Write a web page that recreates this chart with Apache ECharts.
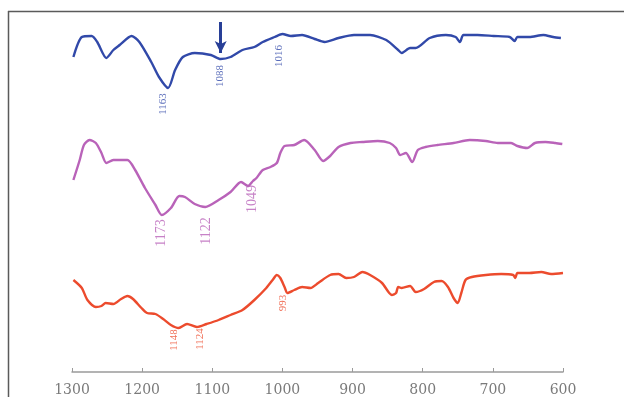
<!DOCTYPE html>
<html><head><meta charset="utf-8">
<script src="https://cdn.jsdelivr.net/npm/echarts@6/dist/echarts.min.js"></script>
<style>html,body{margin:0;padding:0;background:#fff}#c{width:624px;height:397px}</style>
</head><body><div id="c"></div>
<script>
// x tick labels (wavenumber, cm-1)
var xTicks = [1300, 1200, 1100, 1000, 900, 800, 700, 600];
// top (blue) spectrum: [wavenumber, offset transmittance]
var blueCurve = [[1298,315],[1286,335],[1272,336],[1264,330],[1251,314],[1241,322],[1232,327],[1215,336],[1204,330],[1187,310],[1176,295],[1163,284],[1153,302],[1142,315],[1125,319],[1102,317],[1088,313],[1074,315],[1057,322],[1040,325],[1028,330],[1011,335],[1000,338],[988,336],[972,337],[954,333],[940,330],[920,334],[898,337],[875,337],[852,332],[835,322],[830,319],[818,324],[810,324],[790,334],[767,337],[753,335],[747,330],[742,337],[722,337],[699,336],[676,335],[669,331],[665,335],[648,335],[628,337],[614,335],[603,334]];
// middle (pink) spectrum
var pinkCurve = [[1298,192],[1289,212],[1283,227],[1275,232],[1266,229],[1258,219],[1251,209],[1241,212],[1221,212],[1210,202],[1196,184],[1181,167],[1172,157],[1159,164],[1147,176],[1139,175],[1125,168],[1110,165],[1091,172],[1074,180],[1059,190],[1049,186],[1042,191],[1037,194],[1028,202],[1017,205],[1008,209],[1003,219],[997,226],[983,227],[969,232],[954,222],[942,211],[932,216],[920,225],[903,229],[886,230],[864,231],[847,229],[838,224],[832,217],[824,219],[815,210],[807,222],[796,225],[779,227],[756,229],[733,232],[710,231],[693,229],[674,229],[665,226],[651,224],[640,229],[625,230],[611,229],[601,228]];
// bottom (red) spectrum
var redCurve = [[1298,92],[1286,84],[1278,72],[1266,65],[1258,66],[1252,69],[1241,68],[1230,73],[1221,76],[1213,73],[1201,64],[1193,59],[1181,58],[1170,53],[1159,47],[1148,44],[1136,48],[1122,45],[1108,48],[1091,52],[1074,57],[1057,62],[1040,72],[1023,84],[1014,92],[1008,97],[1003,94],[997,85],[993,79],[983,82],[972,85],[960,84],[949,89],[932,97],[920,98],[909,94],[898,95],[886,100],[875,97],[858,89],[844,77],[838,79],[835,85],[830,84],[818,86],[810,80],[798,83],[784,90],[773,91],[764,85],[756,74],[750,69],[745,79],[739,92],[730,95],[710,97],[688,98],[671,97],[668,94],[665,99],[648,99],[631,100],[617,98],[600,99]];
// peak annotations: [wavenumber position, height position, text]
var blueLabels = [[1170,268,'1163'],[1089,296,'1088'],[1005,316,'1016']];
var pinkLabels = [[1173,139,'1173'],[1108,141,'1122'],[1043,173,'1049']];
var redLabels = [[1155,32,'1148'],[1118,33,'1124'],[999,69,'993']];
// arrow marking 1088 on the top spectrum
var arrowLine = [[1088,350],[1088,319]];

var BLUE = '#3149a9', PINK = '#b963b9', RED = '#ec4b2d';
function curve(data, color){
  return {type:'line', data:data, showSymbol:false, smooth:0.25, lineStyle:{color:color, width:2.4}, itemStyle:{color:color}, silent:true, z:3};
}
function labels(data, color, size){
  return {type:'scatter', data:data, symbolSize:0, silent:true, z:4,
    label:{show:true, position:'inside', rotate:90, color:color, fontSize:size,
      fontFamily:'Liberation Serif', formatter:function(p){return p.data[2];}}};
}
var chart = echarts.init(document.getElementById('c'), null, {renderer:'canvas'});
chart.setOption({
  animation:false,
  backgroundColor:'#fff',
  grid:{left:72, right:61, top:11, bottom:25},
  xAxis:{type:'value', inverse:true, min:600, max:1300, interval:100,
    axisLine:{show:true, lineStyle:{color:'#9a9a9a', width:1.5}},
    axisTick:{show:true, inside:true, length:4, lineStyle:{color:'#9a9a9a'}},
    splitLine:{show:false},
    axisLabel:{margin:11, color:'#7a7a7a', fontSize:14, fontFamily:'DejaVu Serif',
      formatter:function(v){return xTicks.indexOf(v)>=0 ? String(v) : '';}}},
  yAxis:{type:'value', min:0, max:361, show:false},
  graphic:[
    {type:'line', shape:{x1:8.5, y1:11, x2:8.5, y2:397}, style:{stroke:'#5a5a5a', lineWidth:1.5}},
    {type:'line', shape:{x1:8, y1:11.5, x2:624, y2:11.5}, style:{stroke:'#5a5a5a', lineWidth:1.5}}
  ],
  series:[
    curve(blueCurve, BLUE),
    curve(pinkCurve, PINK),
    curve(redCurve, RED),
    labels(blueLabels, BLUE, 11),
    labels(pinkLabels, PINK, 14),
    labels(redLabels, RED, 11),
    {type:'line', data:[], silent:true,
      markLine:{silent:true, symbol:['none','arrow'], symbolSize:[9,12],
        lineStyle:{color:'#283f97', width:3, type:'solid'}, label:{show:false},
        data:[[{coord:arrowLine[0]},{coord:arrowLine[1]}]]}}
  ]
});
</script></body></html>
